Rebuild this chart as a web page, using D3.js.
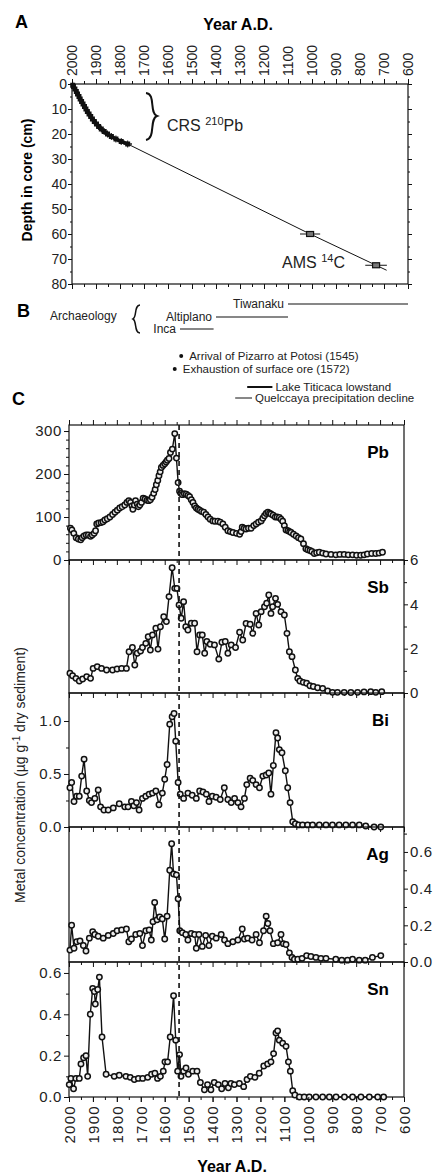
<!DOCTYPE html>
<html>
<head>
<meta charset="utf-8">
<script src="https://cdn.jsdelivr.net/npm/d3@7"></script>
<style>
body { margin: 0; background: #fff; }
</style>
</head>
<body>
<div id="chart"></div>
<script>
// tick labels
var yearTicks = [2000, 1900, 1800, 1700, 1600, 1500, 1400, 1300, 1200, 1100, 1000, 900, 800, 700, 600];
var depthTicks = [0, 10, 20, 30, 40, 50, 60, 70, 80];

// age model : 210Pb (CRS) depths, years and errors
var crsDepth = [0.5, 1, 2, 3, 4, 5, 6, 7, 8, 9, 10, 11, 12, 13, 14, 15, 16, 17, 18, 19, 20, 21, 22, 23, 24];
var crsYear = [1997, 1994, 1988, 1982, 1977, 1971, 1966, 1960, 1954, 1948, 1942, 1936, 1929, 1922, 1915, 1907, 1898, 1889, 1878, 1866, 1852, 1836, 1817, 1795, 1768];
var crsErr = [1, 1, 1, 1, 2, 2, 2, 2, 2, 3, 3, 3, 3, 4, 4, 5, 5, 6, 7, 8, 9, 10, 11, 13, 15];

// age model : AMS 14C dates
var amsDepth = [60, 72.5];
var amsYear = [1008, 733];
var amsErr = [42, 45];

// archaeology
var cultureNames = ["Tiwanaku", "Altiplano", "Inca"];
var cultureStart = [1100, 1400, 1550];
var cultureEnd = [600, 1100, 1410];

// events
var eventNames = ["Arrival of Pizarro at Potosi (1545)", "Exhaustion of surface ore (1572)"];
var eventYears = [1545, 1572];

// climate
var climateNames = ["Lake Titicaca lowstand", "Quelccaya precipitation decline"];
var climateStart = [1270, 1320];
var climateEnd = [1165, 1250];

var dashedYear = 1540;

// metal series [year, concentration]
var pbData = [[1994,74],[1988,70],[1980,62],[1970,52],[1961,49],[1951,47],[1945,52],[1937,56],[1928,58],[1919,58],[1910,55],[1903,58],[1895,62],[1889,68],[1884,84],[1876,86],[1866,87],[1858,89],[1850,93],[1840,96],[1829,100],[1818,106],[1808,111],[1798,116],[1788,121],[1778,124],[1767,128],[1758,134],[1750,138],[1743,134],[1737,126],[1733,118],[1727,128],[1722,138],[1715,130],[1710,124],[1704,128],[1697,134],[1690,144],[1682,142],[1674,139],[1667,138],[1660,140],[1653,146],[1646,155],[1640,164],[1635,175],[1629,185],[1624,196],[1619,205],[1614,215],[1607,220],[1600,224],[1594,228],[1589,232],[1582,236],[1576,250],[1568,258],[1558,294],[1551,237],[1544,180],[1538,160],[1533,155],[1526,152],[1518,154],[1510,153],[1503,150],[1496,147],[1489,140],[1482,134],[1475,126],[1468,121],[1461,118],[1454,116],[1446,113],[1437,111],[1428,106],[1419,100],[1410,95],[1399,91],[1390,90],[1378,90],[1368,88],[1357,84],[1347,76],[1336,68],[1326,66],[1315,64],[1300,62],[1287,60],[1281,66],[1276,76],[1268,74],[1260,72],[1250,74],[1239,74],[1228,80],[1218,84],[1208,88],[1197,91],[1190,97],[1183,103],[1176,108],[1169,111],[1162,109],[1156,107],[1147,104],[1138,100],[1130,100],[1121,99],[1114,95],[1107,90],[1100,80],[1093,70],[1085,68],[1078,66],[1072,64],[1062,60],[1051,56],[1041,52],[1031,49],[1020,38],[1010,26],[1002,24],[993,22],[985,20],[975,15],[965,17],[954,18],[940,16],[926,14],[905,13],[885,12],[868,13],[850,13],[833,12],[815,12],[798,11],[781,11],[767,12],[753,14],[735,15],[718,15],[704,16],[690,18]];

var sbData = [[1996,0.89],[1985,0.78],[1971,0.66],[1957,0.54],[1943,0.63],[1926,0.74],[1910,0.66],[1899,1.11],[1882,1.19],[1864,1.11],[1843,1.04],[1818,1.04],[1799,1.08],[1780,1.11],[1760,1.11],[1749,1.86],[1735,2.05],[1725,1.26],[1715,1.79],[1701,1.89],[1693,2.05],[1679,2.24],[1669,2.54],[1660,1.94],[1651,2.62],[1637,2.92],[1628,1.98],[1618,2.99],[1604,3.44],[1593,3.22],[1582,4.35],[1569,5.65],[1558,4.72],[1549,4.72],[1540,3.97],[1531,3.37],[1521,4.12],[1512,2.99],[1503,2.84],[1489,3.15],[1475,3.15],[1465,1.86],[1454,2.62],[1443,2.62],[1433,1.79],[1424,2.32],[1410,2.2],[1392,2.17],[1374,1.53],[1361,2.29],[1347,2.32],[1336,1.79],[1322,2.17],[1304,2.05],[1287,2.74],[1274,2.39],[1260,3.14],[1243,3.1],[1232,2.69],[1218,3.59],[1207,3.07],[1197,3.67],[1183,3.89],[1174,4.05],[1165,4.42],[1156,3.59],[1149,3.89],[1137,4.27],[1128,4.0],[1114,3.67],[1100,3.52],[1089,2.69],[1079,1.86],[1068,1.64],[1054,1.04],[1044,0.66],[1035,0.54],[1021,0.48],[1007,0.44],[993,0.33],[979,0.29],[961,0.24],[940,0.21],[919,0.09],[899,0.03],[878,0.03],[850,0.03],[822,0.02],[794,0.03],[767,0.05],[739,0.06],[718,0.03],[693,0.06]];

var biData = [[1996,0.37],[1989,0.42],[1979,0.24],[1968,0.29],[1957,0.29],[1947,0.48],[1937,0.64],[1926,0.34],[1915,0.25],[1906,0.23],[1892,0.27],[1878,0.35],[1868,0.19],[1854,0.16],[1836,0.16],[1815,0.18],[1790,0.22],[1767,0.19],[1753,0.19],[1739,0.24],[1729,0.2],[1718,0.23],[1707,0.16],[1693,0.27],[1679,0.29],[1665,0.31],[1651,0.32],[1637,0.34],[1624,0.21],[1610,0.32],[1600,0.45],[1590,0.59],[1579,0.97],[1569,1.04],[1561,1.07],[1554,0.81],[1544,0.42],[1535,0.31],[1521,0.27],[1503,0.32],[1485,0.3],[1468,0.27],[1454,0.34],[1440,0.33],[1426,0.31],[1415,0.24],[1401,0.29],[1385,0.28],[1368,0.26],[1351,0.37],[1336,0.26],[1322,0.23],[1308,0.27],[1294,0.23],[1281,0.19],[1267,0.27],[1257,0.4],[1243,0.46],[1232,0.44],[1218,0.4],[1204,0.37],[1190,0.48],[1176,0.49],[1165,0.51],[1156,0.31],[1146,0.58],[1135,0.89],[1128,0.84],[1121,0.73],[1110,0.7],[1096,0.53],[1086,0.37],[1076,0.23],[1065,0.05],[1054,0.03],[1040,0.02],[1024,0.02],[1003,0.02],[982,0.02],[954,0.02],[926,0.02],[899,0.02],[871,0.02],[843,0.02],[815,0.02],[787,0.02],[760,0.01],[725,0.0],[697,0.0]];

var agData = [[1996,0.065],[1989,0.2],[1979,0.075],[1968,0.11],[1954,0.115],[1940,0.09],[1929,0.06],[1915,0.13],[1901,0.165],[1892,0.15],[1878,0.14],[1857,0.13],[1836,0.145],[1815,0.155],[1799,0.17],[1780,0.175],[1760,0.18],[1750,0.11],[1739,0.125],[1721,0.15],[1704,0.155],[1693,0.09],[1679,0.17],[1665,0.175],[1656,0.12],[1649,0.22],[1642,0.325],[1632,0.23],[1621,0.245],[1610,0.235],[1600,0.125],[1590,0.25],[1579,0.5],[1571,0.645],[1563,0.48],[1551,0.475],[1544,0.345],[1537,0.17],[1526,0.16],[1512,0.15],[1503,0.12],[1489,0.155],[1475,0.15],[1468,0.075],[1457,0.15],[1443,0.085],[1429,0.145],[1415,0.09],[1401,0.14],[1385,0.13],[1364,0.15],[1350,0.12],[1336,0.1],[1315,0.11],[1294,0.12],[1276,0.18],[1267,0.125],[1253,0.13],[1235,0.12],[1218,0.15],[1204,0.105],[1187,0.17],[1176,0.25],[1169,0.21],[1160,0.17],[1146,0.1],[1128,0.105],[1114,0.15],[1104,0.1],[1093,0.095],[1079,0.05],[1068,0.025],[1058,0.015],[1044,0.015],[1026,0.02],[1007,0.035],[989,0.03],[968,0.025],[947,0.02],[926,0.02],[885,0.015],[860,0.01],[836,0.01],[815,0.015],[787,0.01],[762,0.01],[732,0.025],[697,0.035]];

var snData = [[1999,0.06],[1992,0.09],[1981,0.04],[1971,0.09],[1957,0.09],[1950,0.16],[1939,0.19],[1929,0.2],[1922,0.1],[1911,0.4],[1901,0.525],[1894,0.51],[1890,0.45],[1880,0.52],[1873,0.58],[1862,0.29],[1845,0.11],[1811,0.1],[1790,0.105],[1762,0.1],[1744,0.095],[1727,0.085],[1710,0.09],[1692,0.09],[1671,0.095],[1655,0.11],[1641,0.115],[1630,0.09],[1618,0.1],[1606,0.125],[1599,0.17],[1588,0.17],[1577,0.29],[1563,0.49],[1554,0.275],[1546,0.125],[1538,0.205],[1532,0.1],[1521,0.125],[1511,0.14],[1501,0.11],[1483,0.125],[1465,0.125],[1451,0.07],[1434,0.035],[1421,0.06],[1407,0.035],[1393,0.07],[1376,0.06],[1362,0.04],[1348,0.065],[1334,0.045],[1323,0.065],[1309,0.06],[1288,0.065],[1270,0.05],[1256,0.085],[1242,0.1],[1223,0.095],[1205,0.115],[1186,0.15],[1170,0.16],[1156,0.17],[1145,0.21],[1135,0.31],[1128,0.32],[1121,0.275],[1107,0.26],[1093,0.245],[1083,0.17],[1075,0.125],[1065,0.03],[1056,0.01],[1037,0],[1017,0],[996,0],[968,0],[940,0],[912,0],[884,0],[849,0],[815,0],[780,0],[745,0],[710,0],[685,0]];

var pbTicks = [0, 100, 200, 300];
var sbTicks = [0, 2, 4, 6];
var biTicks = [0, 0.5, 1.0];
var agTicks = [0, 0.2, 0.4, 0.6];
var snTicks = [0, 0.2, 0.4, 0.6];

var font = "'Liberation Sans', Arial, Helvetica, sans-serif";
var ink = "#111";

var svg = d3.select("#chart")
    .append("svg")
    .attr("width", 433)
    .attr("height", 1175)
    .style("font-family", font);

var xA = d3.scaleLinear().domain([2000, 600]).range([72, 408]);
var yA = d3.scaleLinear().domain([0, 80]).range([84, 284]);
var xC = d3.scaleLinear().domain([2000, 600]).range([69, 404]);

var minorYears = yearTicks.slice(1).map(d => d + 50);

function cleanAxis(g, size) {
    g.select(".domain").remove();
    g.selectAll("line").attr("stroke", ink);
    g.selectAll("text")
        .attr("fill", "#222")
        .attr("font-size", size)
        .attr("font-family", font);
}

// ---------------- panel A ----------------
svg.append("text").attr("x", 15).attr("y", 28)
    .attr("font-size", 18).attr("font-weight", "bold").text("A");

svg.append("text").attr("x", 238).attr("y", 30)
    .attr("text-anchor", "middle").attr("font-size", 16).attr("font-weight", "bold")
    .text("Year A.D.");

svg.append("text")
    .attr("transform", "translate(32," + 180 + ") rotate(-90)")
    .attr("text-anchor", "middle").attr("font-size", 14).attr("font-weight", "bold")
    .text("Depth in core (cm)");

svg.append("rect")
    .attr("x", xA.range()[0]).attr("y", yA.range()[0])
    .attr("width", xA.range()[1] - xA.range()[0])
    .attr("height", yA.range()[1] - yA.range()[0])
    .attr("fill", "none").attr("stroke", ink).attr("stroke-width", 1.2);

// top axis with rotated years
svg.append("g").attr("transform", "translate(0," + yA(0) + ")")
    .call(d3.axisTop(xA).tickValues(yearTicks).tickSize(5).tickSizeOuter(0).tickFormat(d3.format("d")))
    .call(g => cleanAxis(g, 14))
    .call(g => g.selectAll("text")
        .attr("transform", "rotate(-90)")
        .attr("x", 8).attr("y", 0).attr("dy", "0.35em")
        .attr("text-anchor", "start"));
svg.append("g").attr("transform", "translate(0," + yA(0) + ")")
    .call(d3.axisTop(xA).tickValues(minorYears).tickSize(3).tickSizeOuter(0).tickFormat(""))
    .call(g => cleanAxis(g, 14));

// bottom axis, ticks only
svg.append("g").attr("transform", "translate(0," + yA(80) + ")")
    .call(d3.axisBottom(xA).tickValues(yearTicks).tickSize(5).tickSizeOuter(0).tickFormat(""))
    .call(g => cleanAxis(g, 14));
svg.append("g").attr("transform", "translate(0," + yA(80) + ")")
    .call(d3.axisBottom(xA).tickValues(minorYears).tickSize(3).tickSizeOuter(0).tickFormat(""))
    .call(g => cleanAxis(g, 14));

// depth axes
svg.append("g").attr("transform", "translate(" + xA(2000) + ",0)")
    .call(d3.axisLeft(yA).tickValues(depthTicks).tickSize(4).tickPadding(1).tickSizeOuter(0))
    .call(g => cleanAxis(g, 14));
svg.append("g").attr("transform", "translate(" + xA(2000) + ",0)")
    .call(d3.axisLeft(yA).tickValues(d3.range(5, 80, 10)).tickSize(2).tickSizeOuter(0).tickFormat(""))
    .call(g => cleanAxis(g, 14));
svg.append("g").attr("transform", "translate(" + xA(600) + ",0)")
    .call(d3.axisRight(yA).tickValues(depthTicks).tickSize(4).tickSizeOuter(0).tickFormat(""))
    .call(g => cleanAxis(g, 14));
svg.append("g").attr("transform", "translate(" + xA(600) + ",0)")
    .call(d3.axisRight(yA).tickValues(d3.range(5, 80, 10)).tickSize(2).tickSizeOuter(0).tickFormat(""))
    .call(g => cleanAxis(g, 14));

// age-depth line : CRS points then through the AMS dates
var agePts = crsDepth.map((d, i) => [crsYear[i], d]);
amsDepth.forEach((d, i) => agePts.push([amsYear[i], d]));
var n = amsDepth.length;
var slope = (amsYear[n - 1] - amsYear[n - 2]) / (amsDepth[n - 1] - amsDepth[n - 2]);
agePts.push([amsYear[n - 1] + slope * 2, amsDepth[n - 1] + 2]);

svg.append("path")
    .datum(agePts)
    .attr("fill", "none").attr("stroke", ink).attr("stroke-width", 1)
    .attr("d", d3.line().x(d => xA(d[0])).y(d => yA(d[1])));

// thick band under the 210Pb points
svg.append("path")
    .datum(agePts.slice(0, crsDepth.length))
    .attr("fill", "none").attr("stroke", ink).attr("stroke-width", 3.5)
    .attr("d", d3.line().x(d => xA(d[0])).y(d => yA(d[1])));

var crs = svg.append("g").selectAll("g").data(crsDepth).enter().append("g");
crs.append("line")
    .attr("x1", (d, i) => xA(crsYear[i] + crsErr[i] + 3))
    .attr("x2", (d, i) => xA(crsYear[i] - crsErr[i] - 3))
    .attr("y1", d => yA(d)).attr("y2", d => yA(d))
    .attr("stroke", ink).attr("stroke-width", 1.4);
crs.append("rect")
    .attr("x", (d, i) => xA(crsYear[i]) - 2.5)
    .attr("y", d => yA(d) - 2.5)
    .attr("width", 5).attr("height", 5)
    .attr("fill", ink);
crs.append("line")
    .attr("x1", (d, i) => xA(crsYear[i])).attr("x2", (d, i) => xA(crsYear[i]))
    .attr("y1", d => yA(d) - 3.5).attr("y2", d => yA(d) + 3.5)
    .attr("stroke", ink).attr("stroke-width", 1);

var ams = svg.append("g").selectAll("g").data(amsDepth).enter().append("g");
ams.append("line")
    .attr("x1", (d, i) => xA(amsYear[i] + amsErr[i]))
    .attr("x2", (d, i) => xA(amsYear[i] - amsErr[i]))
    .attr("y1", d => yA(d)).attr("y2", d => yA(d))
    .attr("stroke", ink).attr("stroke-width", 1);
ams.append("rect")
    .attr("x", (d, i) => xA(amsYear[i]) - 3.5)
    .attr("y", d => yA(d) - 2.5)
    .attr("width", 7).attr("height", 5)
    .attr("fill", "#777").attr("stroke", ink).attr("stroke-width", 1.2);

// CRS label with brace
svg.append("path")
    .attr("d", "M146,93 C156,94 149,113 157,116 C149,119 156,138 146,140")
    .attr("fill", "none").attr("stroke", ink).attr("stroke-width", 2);
var crsLab = svg.append("text").attr("x", 167).attr("y", 131).attr("font-size", 16).attr("fill", "#222");
crsLab.append("tspan").text("CRS ");
crsLab.append("tspan").attr("font-size", 11).attr("dy", -6).text("210");
crsLab.append("tspan").attr("dy", 6).text("Pb");

var amsLab = svg.append("text").attr("x", 282).attr("y", 268).attr("font-size", 16).attr("fill", "#222");
amsLab.append("tspan").text("AMS ");
amsLab.append("tspan").attr("font-size", 11).attr("dy", -6).text("14");
amsLab.append("tspan").attr("dy", 6).text("C");

// ---------------- panel B ----------------
svg.append("text").attr("x", 17).attr("y", 317)
    .attr("font-size", 18).attr("font-weight", "bold").text("B");
svg.append("text").attr("x", 50).attr("y", 320)
    .attr("font-size", 12).attr("fill", "#222").text("Archaeology");
svg.append("path")
    .attr("d", "M140,305 C134,305 137,317 133,319 C137,321 134,333 140,333")
    .attr("fill", "none").attr("stroke", ink).attr("stroke-width", 1.5);

var cultureY = [304, 317, 329];
cultureNames.forEach((name, i) => {
    svg.append("line")
        .attr("x1", xA(cultureStart[i])).attr("x2", xA(cultureEnd[i]))
        .attr("y1", cultureY[i]).attr("y2", cultureY[i])
        .attr("stroke", ink).attr("stroke-width", 1.2);
    svg.append("text")
        .attr("x", xA(cultureStart[i]) - 4).attr("y", cultureY[i] + 4)
        .attr("text-anchor", "end").attr("font-size", 12).attr("fill", "#222")
        .text(name);
});

var eventY = [356, 369];
eventNames.forEach((name, i) => {
    svg.append("circle")
        .attr("cx", xA(eventYears[i])).attr("cy", eventY[i]).attr("r", 2)
        .attr("fill", ink);
    svg.append("text")
        .attr("x", xA(eventYears[i]) + 8).attr("y", eventY[i] + 4)
        .attr("font-size", 11.5).attr("fill", "#222")
        .text(name);
});

var climateY = [387, 398];
var climateW = [2, 1];
climateNames.forEach((name, i) => {
    svg.append("line")
        .attr("x1", xA(climateStart[i])).attr("x2", xA(climateEnd[i]))
        .attr("y1", climateY[i]).attr("y2", climateY[i])
        .attr("stroke", ink).attr("stroke-width", climateW[i]);
    svg.append("text")
        .attr("x", xA(climateEnd[i]) + 3).attr("y", climateY[i] + 4)
        .attr("font-size", 11.5).attr("fill", "#222")
        .text(name);
});

// ---------------- panel C ----------------
svg.append("text").attr("x", 12).attr("y", 405)
    .attr("font-size", 18).attr("font-weight", "bold").text("C");

var panels = [
    {name: "Pb", data: pbData, ticks: pbTicks, minor: d3.range(20, 314, 20), top: 425, bottom: 560, max: 314, side: "left", fmt: d3.format("d")},
    {name: "Sb", data: sbData, ticks: sbTicks, minor: [1, 3, 5], top: 560, bottom: 693, max: 6, side: "right", fmt: d3.format("d")},
    {name: "Bi", data: biData, ticks: biTicks, minor: [0.25, 0.75], top: 693, bottom: 827, max: 1.264, side: "left", fmt: d3.format(".1f")},
    {name: "Ag", data: agData, ticks: agTicks, minor: [0.1, 0.3, 0.5, 0.7], top: 827, bottom: 962, max: 0.736, side: "right", fmt: d3.format(".1f")},
    {name: "Sn", data: snData, ticks: snTicks, minor: [0.1, 0.3, 0.5], top: 962, bottom: 1097, max: 0.653, side: "left", fmt: d3.format(".1f")}
];

panels.forEach((p, k) => {
    var y = d3.scaleLinear().domain([0, p.max]).range([p.bottom, p.top]);
    var g = svg.append("g");

    g.append("rect")
        .attr("x", xC(2000)).attr("y", p.top)
        .attr("width", xC(600) - xC(2000)).attr("height", p.bottom - p.top)
        .attr("fill", "none").attr("stroke", ink).attr("stroke-width", 1.2);

    // year ticks on the bottom edge of each panel
    g.append("g").attr("transform", "translate(0," + p.bottom + ")")
        .call(d3.axisBottom(xC).tickValues(yearTicks).tickSize(5).tickSizeOuter(0).tickFormat(""))
        .call(a => cleanAxis(a, 15));
    g.append("g").attr("transform", "translate(0," + p.bottom + ")")
        .call(d3.axisBottom(xC).tickValues(minorYears).tickSize(3).tickSizeOuter(0).tickFormat(""))
        .call(a => cleanAxis(a, 15));
    if (k == 0) {
        g.append("g").attr("transform", "translate(0," + p.top + ")")
            .call(d3.axisTop(xC).tickValues(yearTicks).tickSize(5).tickSizeOuter(0).tickFormat(""))
            .call(a => cleanAxis(a, 15));
        g.append("g").attr("transform", "translate(0," + p.top + ")")
            .call(d3.axisTop(xC).tickValues(minorYears).tickSize(3).tickSizeOuter(0).tickFormat(""))
            .call(a => cleanAxis(a, 15));
    }

    // value axis
    var left = p.side == "left";
    var ax = left ? d3.axisLeft(y) : d3.axisRight(y);
    var axMinor = left ? d3.axisLeft(y) : d3.axisRight(y);
    var xPos = left ? xC(2000) : xC(600);
    g.append("g").attr("transform", "translate(" + xPos + ",0)")
        .call(ax.tickValues(p.ticks).tickSize(left ? 5 : 4).tickPadding(2).tickSizeOuter(0).tickFormat(p.fmt))
        .call(a => cleanAxis(a, 15))
        .call(a => a.selectAll("text").attr("letter-spacing", 0.6));
    g.append("g").attr("transform", "translate(" + xPos + ",0)")
        .call(axMinor.tickValues(p.minor).tickSize(3).tickSizeOuter(0).tickFormat(""))
        .call(a => cleanAxis(a, 15));

    // series
    g.append("path")
        .datum(p.data)
        .attr("fill", "none").attr("stroke", ink).attr("stroke-width", 1.4)
        .attr("d", d3.line().x(d => xC(d[0])).y(d => y(d[1])));
    g.selectAll("circle").data(p.data).enter().append("circle")
        .attr("cx", d => xC(d[0])).attr("cy", d => y(d[1])).attr("r", 2.7)
        .attr("fill", "#eee").attr("stroke", ink).attr("stroke-width", 1.5);

    g.append("text")
        .attr("x", 389).attr("y", p.top + 33)
        .attr("text-anchor", "end").attr("font-size", 17).attr("font-weight", "bold")
        .text(p.name);
});

// dashed line through all metal panels
svg.append("line")
    .attr("x1", xC(dashedYear)).attr("x2", xC(dashedYear))
    .attr("y1", 425).attr("y2", 1097)
    .attr("stroke", ink).attr("stroke-width", 1.6)
    .attr("stroke-dasharray", "5,4");

// bottom year axis
svg.append("g").attr("transform", "translate(0,1097)")
    .call(d3.axisBottom(xC).tickValues(yearTicks).tickSize(5).tickSizeOuter(0).tickFormat(d3.format("d")))
    .call(g => cleanAxis(g, 15))
    .call(g => g.selectAll("text")
        .attr("transform", "rotate(-90)")
        .attr("x", -8).attr("y", 0).attr("dy", "0.35em")
        .attr("letter-spacing", 1.3)
        .attr("text-anchor", "end"));

svg.append("text").attr("x", 232).attr("y", 1172)
    .attr("text-anchor", "middle").attr("font-size", 16).attr("font-weight", "bold")
    .text("Year A.D.");

var metalLab = svg.append("text")
    .attr("transform", "translate(25,775) rotate(-90)")
    .attr("text-anchor", "middle").attr("font-size", 14).attr("fill", "#222");
metalLab.append("tspan").text("Metal concentration (\u00b5g g");
metalLab.append("tspan").attr("font-size", 10).attr("dy", -5).text("-1");
metalLab.append("tspan").attr("dy", 5).text(" dry sediment)");
</script>
</body>
</html>
